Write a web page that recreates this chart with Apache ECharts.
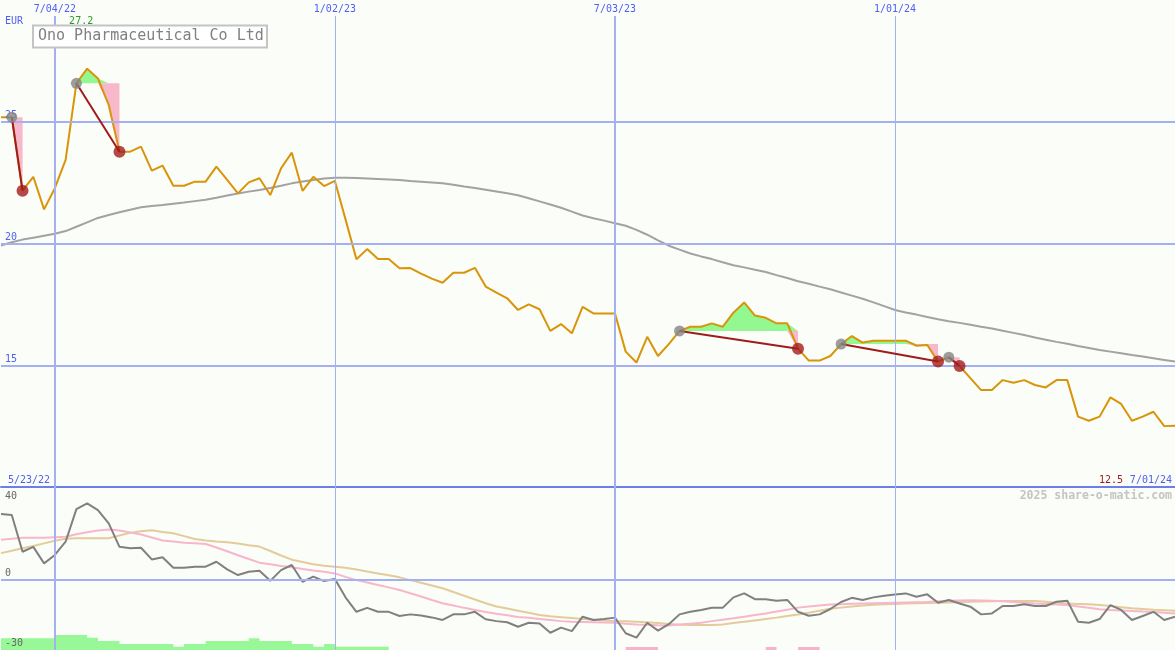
<!DOCTYPE html>
<html><head><meta charset="utf-8">
<script src="https://cdn.jsdelivr.net/npm/echarts@6/dist/echarts.min.js"></script>
<style>html,body{margin:0;padding:0;background:#fbfdf8;}#c{width:1175px;height:650px;}</style>
</head><body><div id="c"></div>
<script>
// ---- data (weekly closes, EUR) ----
const firstWeek = '2022-05-30';
const price = [25.19,25.19,22.17,22.74,21.40,22.27,23.43,26.58,27.18,26.78,
25.69,23.77,23.77,23.98,22.99,23.20,22.37,22.37,22.54,22.54,
23.16,22.61,22.06,22.51,22.68,21.99,23.09,23.73,22.16,22.74,
22.36,22.57,20.97,19.35,19.77,19.36,19.36,18.98,18.99,18.76,
18.56,18.39,18.80,18.80,19.00,18.23,17.98,17.75,17.27,17.50,
17.30,16.41,16.69,16.31,17.40,17.13,17.13,17.13,15.56,15.11,
16.17,15.38,15.87,16.41,16.58,16.58,16.72,16.58,17.16,17.58,
17.04,16.95,16.72,16.72,15.68,15.19,15.19,15.38,15.87,16.20,
15.93,16.01,16.01,16.01,16.01,15.80,15.83,15.15,15.33,14.97,
14.47,13.98,13.98,14.39,14.28,14.39,14.19,14.09,14.39,14.39,
12.89,12.72,12.89,13.68,13.41,12.72,12.89,13.09,12.50,12.52];
const movingAvg = [19.92,20.05,20.16,20.24,20.32,20.40,20.51,20.69,20.87,21.05,
21.17,21.28,21.39,21.49,21.54,21.58,21.63,21.68,21.74,21.80,
21.88,21.97,22.05,22.13,22.20,22.28,22.37,22.47,22.55,22.61,
22.67,22.70,22.70,22.69,22.67,22.65,22.63,22.61,22.57,22.54,
22.51,22.47,22.41,22.34,22.28,22.21,22.14,22.06,21.98,21.86,
21.73,21.60,21.47,21.31,21.15,21.04,20.94,20.83,20.73,20.56,
20.36,20.13,19.91,19.75,19.59,19.47,19.36,19.23,19.11,19.02,
18.92,18.83,18.70,18.58,18.45,18.35,18.23,18.12,17.99,17.86,
17.73,17.58,17.43,17.27,17.17,17.08,16.98,16.89,16.81,16.74,
16.66,16.58,16.51,16.42,16.33,16.24,16.14,16.05,15.96,15.88,
15.79,15.71,15.63,15.56,15.49,15.42,15.36,15.29,15.22,15.15];
const oscGray = [28.4,28.0,12.2,14.3,7.2,10.8,16.5,30.5,33.0,30.1,
24.4,14.3,13.7,13.9,8.9,9.8,5.3,5.3,5.8,5.8,
7.9,4.6,2.2,3.6,4.0,-0.3,4.3,6.5,-0.7,1.5,
-0.4,0.5,-7.5,-13.6,-11.9,-13.6,-13.6,-15.4,-14.7,-15.2,
-16.0,-17.1,-14.7,-14.7,-13.6,-16.8,-17.6,-18.1,-20.0,-18.3,
-18.6,-22.6,-20.4,-21.9,-15.7,-17.1,-16.7,-16.1,-22.8,-24.7,
-18.3,-21.7,-18.9,-14.7,-13.6,-12.8,-11.9,-11.9,-7.4,-5.7,
-8.2,-8.2,-8.8,-8.5,-13.6,-15.3,-14.7,-12.4,-9.4,-7.6,
-8.5,-7.4,-6.7,-6.2,-5.7,-7.1,-6.1,-9.7,-8.5,-10.0,
-11.4,-14.7,-14.3,-11.1,-11.1,-10.4,-11.1,-11.1,-9.3,-8.8,
-17.9,-18.3,-16.7,-10.7,-12.8,-17.1,-15.4,-13.6,-17.1,-15.7];
const oscPink = [17.3,17.8,18.2,18.2,18.2,18.4,18.6,19.7,20.6,21.3,
21.7,21.3,20.5,19.6,18.3,17.0,16.6,16.1,15.8,15.5,
14.0,12.4,10.7,9.1,7.5,6.8,6.1,5.5,4.8,4.1,
3.6,2.9,1.4,0.0,-1.0,-2.1,-3.1,-4.2,-5.6,-7.0,
-8.5,-9.9,-10.9,-11.9,-12.8,-13.7,-14.4,-15.1,-15.8,-16.2,
-16.7,-17.1,-17.6,-17.9,-18.0,-18.1,-18.2,-18.3,-18.7,-19.0,
-19.2,-19.4,-19.5,-19.1,-18.7,-18.3,-17.6,-17.0,-16.4,-15.7,
-15.0,-14.3,-13.5,-12.7,-11.8,-11.3,-10.9,-10.5,-10.3,-10.1,
-10.0,-9.9,-9.8,-9.7,-9.6,-9.5,-9.4,-9.1,-8.9,-8.7,
-8.6,-8.7,-8.9,-9.1,-9.4,-9.7,-10.0,-10.2,-10.5,-10.7,
-11.3,-11.9,-12.5,-12.8,-13.0,-13.2,-13.5,-13.7,-14.0,-14.3];
const oscTan = [11.6,12.6,13.7,14.7,15.8,16.9,17.8,18.0,18.0,18.0,
18.0,19.2,20.3,21.0,21.4,20.7,20.1,18.9,17.7,17.0,
16.6,16.3,15.7,15.0,14.4,12.5,10.6,8.8,7.8,6.8,
6.2,5.8,5.3,4.6,3.7,2.9,2.1,1.2,0.0,-1.1,
-2.3,-3.5,-5.1,-6.7,-8.3,-9.9,-11.3,-12.2,-13.1,-14.0,
-15.0,-15.5,-15.9,-16.3,-16.7,-17.0,-17.3,-17.6,-17.7,-17.9,
-18.1,-18.4,-18.8,-19.2,-19.3,-19.3,-19.3,-19.0,-18.4,-17.9,
-17.3,-16.7,-16.1,-15.4,-14.8,-14.0,-13.1,-12.3,-11.8,-11.3,
-10.9,-10.6,-10.4,-10.2,-10.0,-9.9,-9.8,-9.7,-9.6,-9.4,
-9.3,-9.2,-9.1,-9.0,-9.0,-9.0,-9.0,-9.3,-9.7,-10.0,
-10.2,-10.4,-10.7,-11.1,-11.6,-12.1,-12.4,-12.7,-12.9,-13.1];
const greenBars = [5.0,5.0,5.0,5.0,5.0,6.4,6.4,6.4,5.3,3.9,
3.9,2.6,2.6,2.6,2.6,2.6,1.4,2.6,2.6,3.9,
3.9,3.9,3.9,5.0,3.9,3.9,3.9,2.6,2.6,1.4,
2.6,1.4,1.4,1.4,1.4,1.4,0,0,0,0,
0,0,0,0,0,0,0,0,0,0, 0,0,0,0,0,0,0,0,0,0,
0,0,0,0,0,0,0,0,0,0, 0,0,0,0,0,0,0,0,0,0,
0,0,0,0,0,0,0,0,0,0, 0,0,0,0,0,0,0,0,0,0, 0,0,0,0,0,0,0,0,0,0];
const pinkBars = [0,0,0,0,0,0,0,0,0,0, 0,0,0,0,0,0,0,0,0,0, 0,0,0,0,0,0,0,0,0,0,
0,0,0,0,0,0,0,0,0,0, 0,0,0,0,0,0,0,0,0,0, 0,0,0,0,0,0,0,0,1.3,1.3,
1.3,0,0,0,0,0,0,0,0,0, 0,1.3,0,0,1.3,1.3,0,0,0,0,
0,0,0,0,0,0,0,0,0,0, 0,0,0,0,0,0,0,0,0,0, 0,0,0,0,0,0,0,0,0,0];
const buyWeeks  = [1, 7, 63, 78, 88];
const sellWeeks = [2, 11, 74, 87, 89];
const tickDates  = ['2022-07-04','2023-01-02','2023-07-03','2024-01-01'];
const tickLabels = ['7/04/22','1/02/23','7/03/23','1/01/24'];
const startLabel = '5/23/22', endLabel = '7/01/24';
const priceLevels = [15, 20, 25];
const oscLevels = [40, 0, -30];
const currency = 'EUR';
const titleText = 'Ono Pharmaceutical Co Ltd';
const creditText = '2025 share-o-matic.com';

// ---- build ----
const N = price.length;
const dates = [];
const t0 = Date.parse(firstWeek + 'T00:00:00Z');
for (let i = 0; i < N; i++) dates.push(new Date(t0 + i * 7 * 86400000).toISOString().slice(0, 10));

const FONT = 'DejaVu Sans Mono';
const BLUE = '#4f5ff2';
const GRIDC = '#a4b0f2';
const chart = echarts.init(document.getElementById('c'));

const vLines = (withLabel) => tickDates.map((d, k) => ({
  xAxis: d,
  lineStyle: { width: d.slice(5, 7) === '07' ? 2 : 1 },
  label: { show: withLabel, formatter: tickLabels[k], position: 'end', distance: 2 }
}));

const series = [];
series.push({
  type: 'line', xAxisIndex: 0, yAxisIndex: 0, data: price, symbol: 'none', silent: true, z: 1,
  lineStyle: { opacity: 0 },
  markLine: {
    silent: true, symbol: 'none', animation: false,
    lineStyle: { color: GRIDC, type: 'solid', width: 2 },
    label: { fontFamily: FONT, fontSize: 10, color: BLUE },
    data: vLines(true).concat(priceLevels.map(v => ({
      yAxis: v, label: { formatter: String(v), position: 'insideStartTop', distance: [4, 1] }
    })))
  }
});
series.push({
  type: 'line', xAxisIndex: 1, yAxisIndex: 1, data: oscGray, symbol: 'none', silent: true, z: 1,
  lineStyle: { opacity: 0 },
  markLine: {
    silent: true, symbol: 'none', animation: false,
    lineStyle: { color: GRIDC, type: 'solid', width: 2 },
    label: { show: false },
    data: vLines(false).concat([{ yAxis: 0 }])
  }
});
// bottom bars (step areas)
[[greenBars, '#98f898'], [pinkBars, '#f8b4c8']].forEach(([arr, col]) => {
  series.push({ type: 'line', xAxisIndex: 1, yAxisIndex: 2, data: arr, step: 'end', symbol: 'none',
    lineStyle: { width: 0 }, areaStyle: { color: col, opacity: 1 }, z: 1, silent: true });
});
// oscillator lines
series.push({ type: 'line', xAxisIndex: 1, yAxisIndex: 1, data: oscTan, symbol: 'none', lineStyle: { color: '#e2cc9a', width: 2 }, z: 2 });
series.push({ type: 'line', xAxisIndex: 1, yAxisIndex: 1, data: oscPink, symbol: 'none', lineStyle: { color: '#f8b6cc', width: 2 }, z: 3 });
series.push({ type: 'line', xAxisIndex: 1, yAxisIndex: 1, data: oscGray, symbol: 'none', lineStyle: { color: '#808080', width: 2 }, z: 4 });

// trade fills
buyWeeks.forEach((b, k) => {
  const s = sellWeeks[k], e = price[b];
  const gB = [], gD = [], pB = [], pD = [], ln = [];
  for (let i = 0; i < N; i++) {
    if (i >= b && i <= s) {
      gB.push(e); gD.push(Math.max(price[i] - e, 0));
      const lo = Math.min(price[i], e); pB.push(lo); pD.push(e - lo);
    } else { gB.push('-'); gD.push('-'); pB.push('-'); pD.push('-'); }
    ln.push(i === b || i === s ? price[i] : '-');
  }
  const base = { type: 'line', xAxisIndex: 0, yAxisIndex: 0, symbol: 'none', silent: true, z: 2 };
  series.push(Object.assign({}, base, { data: gB, stack: 'g' + k, lineStyle: { width: 0 } }));
  series.push(Object.assign({}, base, { data: gD, stack: 'g' + k, lineStyle: { width: 0 }, areaStyle: { color: '#94f890', opacity: 1 } }));
  series.push(Object.assign({}, base, { data: pB, stack: 'p' + k, lineStyle: { width: 0 } }));
  series.push(Object.assign({}, base, { data: pD, stack: 'p' + k, lineStyle: { width: 0 }, areaStyle: { color: '#f8b8cc', opacity: 1 } }));
  series.push(Object.assign({}, base, { data: ln, connectNulls: true, z: 5, lineStyle: { color: '#a01c1c', width: 2 } }));
});
// moving average and price
series.push({ type: 'line', xAxisIndex: 0, yAxisIndex: 0, data: movingAvg, symbol: 'none', lineStyle: { color: '#a2a2a2', width: 2 }, z: 3 });
series.push({ type: 'line', xAxisIndex: 0, yAxisIndex: 0, data: price, symbol: 'none', lineStyle: { color: '#d8950a', width: 2 }, z: 4 });
// trade dots
series.push({ type: 'scatter', xAxisIndex: 0, yAxisIndex: 0, symbolSize: 11, itemStyle: { color: '#858585' }, z: 6,
  data: buyWeeks.map(i => [dates[i], price[i]]) });
series.push({ type: 'scatter', xAxisIndex: 0, yAxisIndex: 0, symbolSize: 12, itemStyle: { color: '#a41c1c' }, z: 6,
  data: sellWeeks.map(i => [dates[i], price[i]]) });

chart.setOption({
  animation: false,
  backgroundColor: '#fbfdf8',
  grid: [
    { left: 1, right: 0, top: 16, height: 471 },
    { left: 1, right: 0, top: 487, height: 163 }
  ],
  xAxis: [
    { gridIndex: 0, type: 'category', data: dates, boundaryGap: false,
      axisLine: { show: true, onZero: false, lineStyle: { color: '#6e7ee8', width: 2 } },
      axisTick: { show: false }, axisLabel: { show: false }, splitLine: { show: false } },
    { gridIndex: 1, type: 'category', data: dates, boundaryGap: false, show: false }
  ],
  yAxis: [
    { gridIndex: 0, type: 'value', min: 10, max: 29.343, show: false, splitLine: { show: false } },
    { gridIndex: 1, type: 'value', min: -30, max: 40, show: false, splitLine: { show: false } },
    { gridIndex: 1, type: 'value', min: 0, max: 70, show: false, splitLine: { show: false } }
  ],
  series: series
});

// ---- text overlays ----
let iMax = 0; price.forEach((v, i) => { if (v > price[iMax]) iMax = i; });
const xMax = chart.convertToPixel({ xAxisIndex: 0 }, dates[iMax]);
const yBottom = chart.convertToPixel({ yAxisIndex: 0 }, 10);
const txt = (x, y, text, fill, opts) => Object.assign({
  type: 'text', x: x, y: y, silent: true, z: 100,
  style: Object.assign({ text: text, fill: fill, font: '10px ' + FONT, verticalAlign: 'middle', align: 'left' }, opts || {})
});
const graphics = [
  { type: 'rect', shape: { x: 33, y: 25.5, width: 234, height: 22 }, style: { fill: '#ffffff', stroke: '#c4c4c4', lineWidth: 2 }, z: 100, silent: true },
  txt(38, 36.5, titleText, '#808080', { font: '15px ' + FONT }),
  txt(5, 21, currency, BLUE),
  txt(xMax - 6, 21, price[iMax].toFixed(1), '#2a9a2a', { align: 'center' }),
  txt(8, yBottom - 7, startLabel, BLUE),
  txt(1172, yBottom - 7, endLabel, BLUE, { align: 'right' }),
  txt(1123, yBottom - 7, price[N - 1].toFixed(1), '#a01c1c', { align: 'right' }),
  txt(1172, yBottom + 9, creditText, '#c4c4c4', { align: 'right', font: 'bold 11.5px ' + FONT })
];
oscLevels.forEach(v => {
  const y = chart.convertToPixel({ yAxisIndex: 1 }, v);
  const yy = v === oscLevels[0] ? y + 9 : y - 7;
  graphics.push(txt(5, yy, String(v), '#666666'));
});
chart.setOption({ graphic: graphics });
</script></body></html>
